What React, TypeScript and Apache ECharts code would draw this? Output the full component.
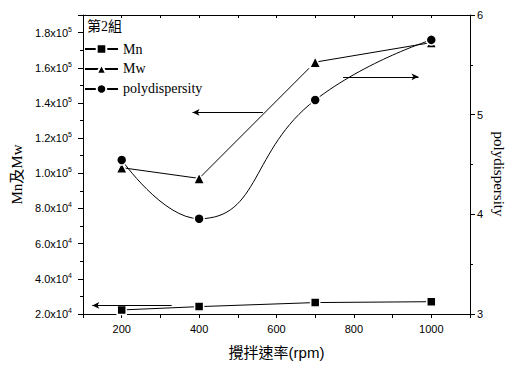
import React, { useEffect, useRef } from "react";
import * as echarts from "echarts";

const speeds = [200, 400, 700, 1000];
const mnValues = [22300, 24200, 26500, 27000];
const mwValues = [103200, 97100, 163200, 174300];
const polyValues = [4.545, 3.956, 5.147, 5.75];

// arrow annotations (data coordinates)
const mnArrow = { from: [329, 24900], to: [124, 24900] };
const mwArrow = { from: [565, 134600], to: [383, 134600] };
const polyArrow = { from: [772, 5.38], to: [967, 5.38] };

const SERIF = "'Liberation Serif', 'Times New Roman', 'Noto Sans CJK TC', serif";
const SANS = "'Liberation Sans', Arial, 'Noto Sans CJK TC', sans-serif";

function sciLabel(v: number): string {
  if (v % 20000 !== 0) return "";
  const e = Math.floor(Math.log10(v) + 1e-9);
  const m = v / Math.pow(10, e);
  return `{m|${m.toFixed(1)}x10}{e|${e}}`;
}

function arrowLine(a: { from: number[]; to: number[] }) {
  return {
    silent: true,
    symbol: ["none", "arrow"],
    symbolSize: [5, 7],
    label: { show: false },
    lineStyle: { color: "#000", width: 1, type: "solid" },
    emphasis: { disabled: true },
    data: [[{ coord: a.from }, { coord: a.to }]],
  };
}

export default function App() {
  const ref = useRef<HTMLDivElement>(null);
  useEffect(() => {
    document.body.style.margin = "0";
    if (!ref.current) return;
    const chart = echarts.init(ref.current, undefined, { renderer: "svg" });
    const axisLine = { show: true, lineStyle: { color: "#000", width: 1 } };
    chart.setOption({
      animation: false,
      backgroundColor: "#fff",
      title: {
        text: "第2組",
        left: 87,
        top: 19,
        padding: 0,
        textStyle: { fontFamily: SERIF, fontSize: 14, fontWeight: "normal", color: "#000" },
      },
      graphic: [
        {
          type: "text",
          x: 499,
          y: 174,
          rotation: -Math.PI / 2,
          style: {
            text: "polydispersity",
            font: `15px ${SERIF}`,
            fill: "#000",
            align: "center",
            verticalAlign: "middle",
          },
        },
      ],
      legend: {
        orient: "vertical",
        left: 79,
        top: 37,
        itemWidth: 33,
        itemHeight: 12,
        itemGap: 6,
        textStyle: { fontFamily: SERIF, fontSize: 14, color: "#000" },
        data: ["Mn", "Mw", "polydispersity"],
      },
      grid: { left: 83, right: 40, top: 15, bottom: 53 },
      xAxis: [
        {
          type: "value",
          min: 100,
          max: 1100,
          interval: 100,
          name: "攪拌速率(rpm)",
          nameLocation: "middle",
          nameGap: 31,
          nameTextStyle: { fontFamily: SANS, fontSize: 15, color: "#000" },
          axisLine,
          axisTick: { show: true, length: 4, lineStyle: { color: "#000" } },
          axisLabel: {
            margin: 9,
            fontFamily: SANS,
            fontSize: 11,
            color: "#000",
            formatter: (v: number) => (v % 200 === 0 && v >= 200 && v <= 1000 ? String(v) : ""),
          },
          splitLine: { show: false },
        },
        {
          type: "value",
          position: "top",
          min: 100,
          max: 1100,
          interval: 100,
          axisLine,
          axisTick: { show: true, inside: true, length: 3, lineStyle: { color: "#000" } },
          axisLabel: { show: false },
          splitLine: { show: false },
        },
      ],
      yAxis: [
        {
          type: "value",
          min: 20000,
          max: 190000,
          interval: 20000,
          name: "Mn及Mw",
          nameLocation: "middle",
          nameGap: 58,
          nameRotate: 90,
          nameTextStyle: { fontFamily: SERIF, fontSize: 15, color: "#000", padding: [0, 20, 0, 0] },
          axisLine,
          axisTick: { show: true, length: 5, lineStyle: { color: "#000" } },
          minorTick: { show: true, splitNumber: 2, length: 3, lineStyle: { color: "#000" } },
          axisLabel: {
            margin: 11,
            color: "#000",
            formatter: sciLabel,
            rich: {
              m: { fontFamily: SANS, fontSize: 11, color: "#000", lineHeight: 14 },
              e: { fontFamily: SANS, fontSize: 7, color: "#000", verticalAlign: "top", lineHeight: 14, padding: [0, 0, 6, 0] },
            },
          },
          splitLine: { show: false },
        },
        {
          type: "value",
          min: 3,
          max: 6,
          interval: 1,
          axisLine,
          axisTick: { show: true, length: 5, lineStyle: { color: "#000" } },
          minorTick: { show: true, splitNumber: 2, length: 3, lineStyle: { color: "#000" } },
          axisLabel: { margin: 7, fontFamily: SANS, fontSize: 11, color: "#000" },
          splitLine: { show: false },
        },
      ],
      series: [
        {
          name: "Mn",
          type: "line",
          yAxisIndex: 0,
          data: speeds.map((s, i) => [s, mnValues[i]]),
          symbol: "rect",
          symbolSize: 9,
          itemStyle: { color: "#000", borderColor: "#fff", borderWidth: 1.5 },
          lineStyle: { color: "#000", width: 1 },
          markLine: arrowLine(mnArrow),
          z: 3,
        },
        {
          name: "Mw",
          type: "line",
          yAxisIndex: 0,
          data: speeds.map((s, i) => [s, mwValues[i]]),
          symbol: "triangle",
          symbolSize: 11,
          itemStyle: { color: "#000", borderColor: "#fff", borderWidth: 1.5 },
          lineStyle: { color: "#000", width: 1 },
          markLine: arrowLine(mwArrow),
          z: 3,
        },
        {
          name: "polydispersity",
          type: "line",
          yAxisIndex: 1,
          data: speeds.map((s, i) => [s, polyValues[i]]),
          smooth: 0.5,
          symbol: "circle",
          symbolSize: 10,
          itemStyle: { color: "#000", borderColor: "#fff", borderWidth: 1.5 },
          lineStyle: { color: "#000", width: 1 },
          markLine: arrowLine(polyArrow),
          z: 3,
        },
      ],
    });
    return () => chart.dispose();
  }, []);
  return <div ref={ref} style={{ width: 510, height: 367 }} />;
}
